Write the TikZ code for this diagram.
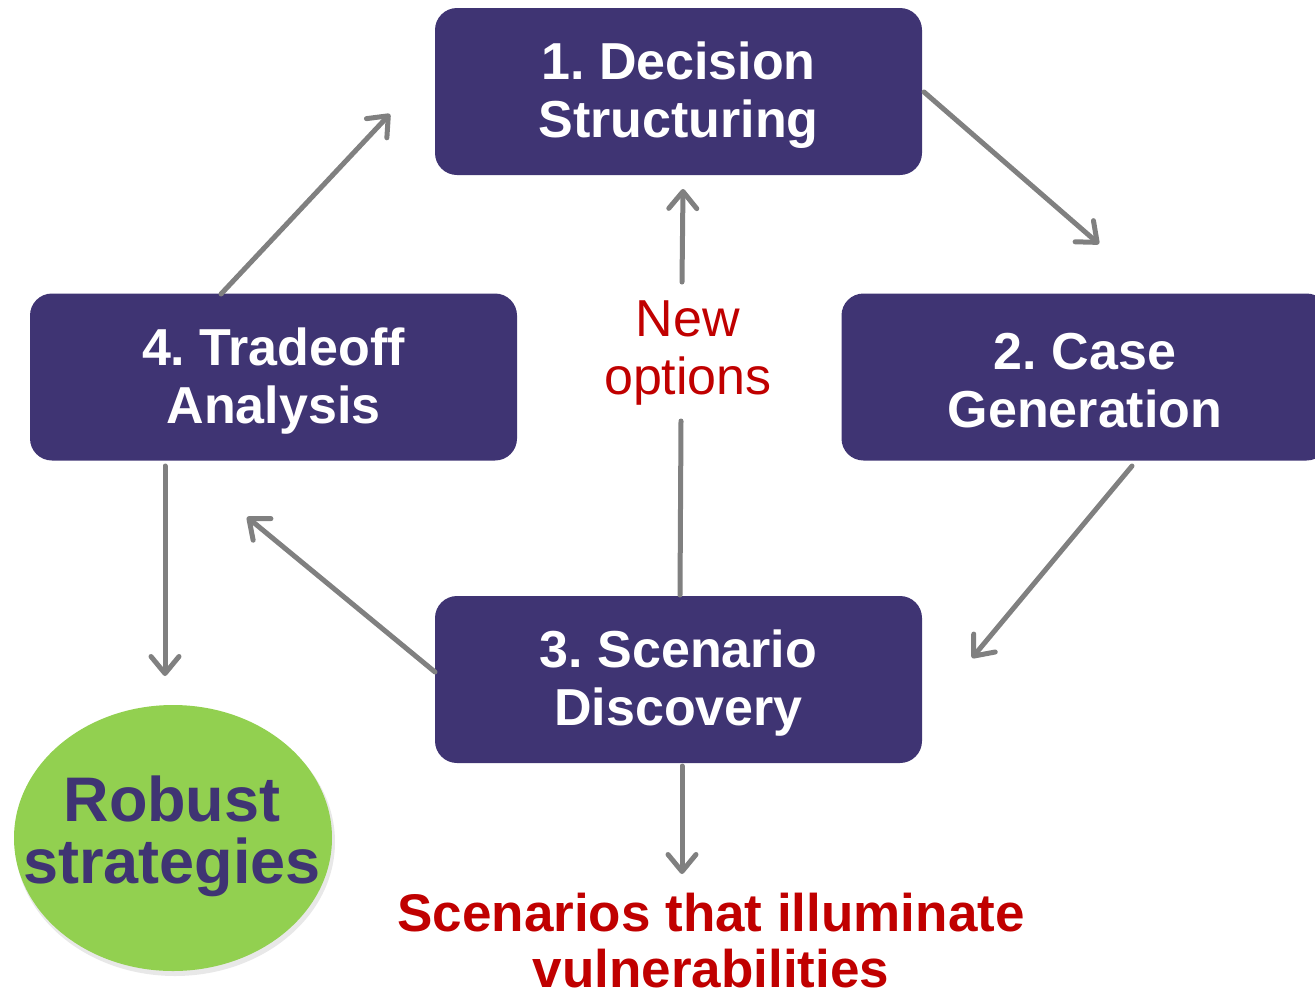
\documentclass[tikz,border=0pt]{standalone}
\usepackage{fontspec}
\setmainfont{Liberation Sans}
\usetikzlibrary{arrows.meta,shapes.geometric,calc}
\definecolor{boxpurple}{RGB}{63,52,115}
\definecolor{arrowgray}{RGB}{128,128,128}
\definecolor{leafgreen}{RGB}{146,208,80}
\definecolor{darkred}{RGB}{192,0,0}
\frenchspacing
\tikzset{
  stepbox/.style={draw=none, fill=boxpurple, rounded corners=22pt, minimum width=487pt, minimum height=167pt,
    text=white, align=center, inner sep=0pt, font=\fontsize{52}{58}\selectfont\bfseries},
  flow/.style={draw=arrowgray, line width=5pt, line cap=round, -{Straight Barb[length=17pt,width=28pt,line cap=round,line join=round]}},
  plainflow/.style={draw=arrowgray, line width=5pt, line cap=round},
  redlabel/.style={text=darkred, align=center, inner sep=0pt}
}
\begin{document}
\begin{tikzpicture}[x=1pt,y=-1pt]
\useasboundingbox (0,0) rectangle (1315,989);
% boxes
\node[stepbox] (b1) at (678.5,91.5) {};
\node[stepbox] (b2) at (1085,377) {};
\node[stepbox] (b3) at (678.5,679.5) {};
\node[stepbox] (b4) at (273.5,377) {};
\node[text=white, align=center, inner sep=0pt, font=\fontsize{52}{58}\selectfont\bfseries] (t1) at ($(b1.center)+(0,4)$) {1. Decision\\Structuring};
\node[text=white, align=center, inner sep=0pt, font=\fontsize{52}{58}\selectfont\bfseries] (t2) at ($(b2.center)+(0,4)$) {2. Case\\Generation};
\node[text=white, align=center, inner sep=0pt, font=\fontsize{52}{58}\selectfont\bfseries] (t3) at ($(b3.center)+(0,4)$) {3. Scenario\\Discovery};
\node[text=white, align=center, inner sep=0pt, font=\fontsize{52}{58}\selectfont\bfseries] (t4) at ($(b4.center)+(0,4)$) {4. Tradeoff\\Analysis};
% robust strategies ellipse
\fill[black!20, opacity=0.45] (175,842) ellipse [x radius=160pt, y radius=134pt];
\node[ellipse, fill=leafgreen, minimum width=318pt, minimum height=266pt, inner sep=0pt] (rs) at (173,838) {};
\node[text=boxpurple, align=center, inner sep=0pt, font=\fontsize{63}{62}\selectfont\bfseries] (rstext) at (172,836) {Robust\\strategies};
% labels
\node[redlabel, font=\fontsize{52}{58}\selectfont] (newopt) at (688,353) {New\\options};
\node[redlabel, font=\fontsize{53}{56}\selectfont\bfseries] (scen) at (711,941) {Scenarios that illuminate\\vulnerabilities};
% free ends
\coordinate (e12s) at (924,92);
\coordinate (e12t) at (1099,244);
\coordinate (e23s) at (1132,466);
\coordinate (e23t) at (972,658);
\coordinate (e34s) at (435,672);
\coordinate (e34t) at (247,517);
\coordinate (e41s) at (221,294);
\coordinate (e41t) at (390,114);
\coordinate (e4rs) at (165,466);
\coordinate (e4rt) at (165,676);
\coordinate (e3ns) at (680,595);
\coordinate (e3nt) at (681,421);
\coordinate (en1s) at (682,282);
\coordinate (en1t) at (683,189);
\coordinate (e3ss) at (682,766);
\coordinate (e3st) at (682,874);
% connectors
\draw[flow] (e12s) -- (e12t);
\draw[flow] (e23s) -- (e23t);
\draw[flow] (e34s) -- (e34t);
\draw[flow] (e41s) -- (e41t);
\draw[flow] (e4rs) -- (e4rt);
\draw[plainflow] (e3ns) -- (e3nt);
\draw[flow] (en1s) -- (en1t);
\draw[flow] (e3ss) -- (e3st);
\end{tikzpicture}
\end{document}
